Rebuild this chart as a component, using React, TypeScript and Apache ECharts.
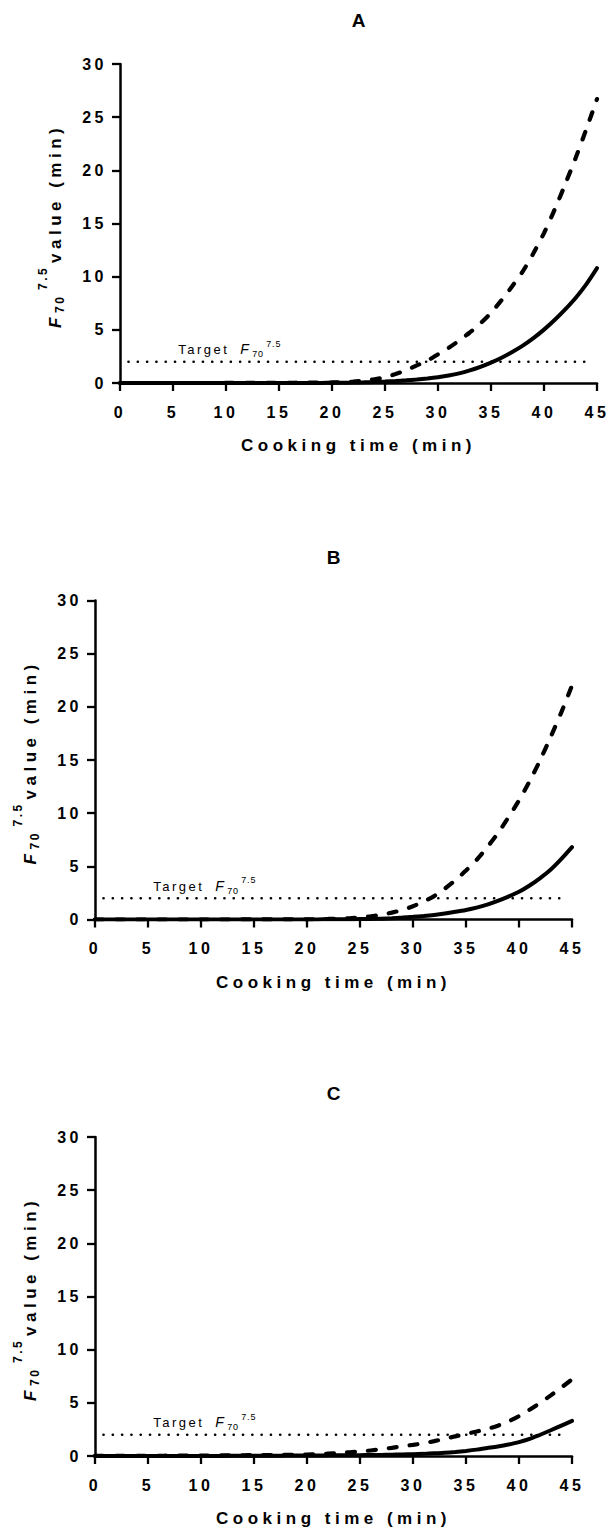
import React, { useEffect, useRef } from "react";
import * as echarts from "echarts";

// ---------- data ----------
const cookingTime = [
  0, 1, 2, 3, 4, 5, 6, 7, 8, 9, 10, 11, 12, 13, 14, 15, 16, 17, 18, 19, 20, 21, 22,
  23, 24, 25, 26, 27, 28, 29, 30, 31, 32, 33, 34, 35, 36, 37, 38, 39, 40, 41, 42, 43,
  44, 45,
];
const panelLabels = ["A", "B", "C"];

const dashedA = [
  0, 0, 0, 0, 0, 0, 0, 0, 0, 0,
  0.01, 0.01, 0.01, 0.01, 0.02, 0.02, 0.02, 0.03, 0.03, 0.04,
  0.05, 0.08, 0.13, 0.22, 0.35, 0.55, 0.85, 1.2, 1.65, 2.1,
  2.7, 3.3, 4.0, 4.75, 5.6, 6.6, 7.8, 9.1, 10.5, 12.2,
  14.1, 16.3, 18.7, 21.2, 23.9, 26.7,
];
const solidA = [
  0, 0, 0, 0, 0, 0, 0, 0, 0, 0,
  0, 0, 0, 0, 0, 0, 0, 0, 0.01, 0.01,
  0.02, 0.03, 0.04, 0.06, 0.09, 0.13, 0.18, 0.25, 0.33, 0.43,
  0.55, 0.7, 0.9, 1.18, 1.52, 1.92, 2.38, 2.92, 3.52, 4.22,
  5.02, 5.92, 6.92, 8.02, 9.3, 10.8,
];
const dashedB = [
  0, 0, 0, 0, 0, 0, 0, 0, 0, 0,
  0, 0, 0, 0, 0.01, 0.01, 0.01, 0.01, 0.02, 0.02,
  0.02, 0.03, 0.05, 0.08, 0.12, 0.2, 0.3, 0.45, 0.65, 0.9,
  1.25, 1.7, 2.2, 2.9, 3.7, 4.6, 5.6, 6.8, 8.1, 9.6,
  11.2, 13.0, 15.0, 17.2, 19.5, 22.0,
];
const solidB = [
  0, 0, 0, 0, 0, 0, 0, 0, 0, 0,
  0, 0, 0, 0, 0, 0, 0, 0, 0, 0,
  0.01, 0.01, 0.02, 0.02, 0.03, 0.04, 0.05, 0.08, 0.12, 0.18,
  0.25, 0.33, 0.43, 0.56, 0.72, 0.9, 1.12, 1.4, 1.75, 2.15,
  2.6, 3.2, 3.9, 4.7, 5.7, 6.8,
];
const dashedC = [
  0.01, 0.01, 0.01, 0.01, 0.02, 0.02, 0.02, 0.03, 0.03, 0.04,
  0.04, 0.05, 0.05, 0.06, 0.07, 0.08, 0.09, 0.1, 0.11, 0.12,
  0.14, 0.17, 0.22, 0.27, 0.35, 0.42, 0.52, 0.63, 0.77, 0.92,
  1.05, 1.2, 1.4, 1.62, 1.85, 2.07, 2.3, 2.55, 2.85, 3.25,
  3.75, 4.35, 5.0, 5.7, 6.45, 7.2,
];
const solidC = [
  0, 0, 0, 0, 0, 0, 0, 0, 0, 0,
  0.01, 0.01, 0.01, 0.02, 0.02, 0.02, 0.03, 0.03, 0.04, 0.04,
  0.05, 0.05, 0.06, 0.07, 0.07, 0.08, 0.09, 0.1, 0.12, 0.14,
  0.17, 0.2, 0.25, 0.3, 0.38, 0.48, 0.6, 0.75, 0.9, 1.08,
  1.3, 1.6, 2.0, 2.42, 2.86, 3.3,
];

const targetValue = 2;
const targetSpan = [0.8, 44.2];
const targetLabelAnchor = [5.5, 2.7];

const xMin = 0;
const xMax = 45;
const xStep = 5;
const yMin = 0;
const yMax = 30;
const yStep = 5;

const xAxisTitle = "Cooking time (min)";
const yAxisTitleRest = "value (min)";
const targetWord = "Target";

// ---------- layout ----------
const FONT = '"Liberation Sans", Arial, Helvetica, sans-serif';
const PLOT_W = 477;
const PLOT_H = 319;
const GRIDS = [
  { left: 120, top: 64 },
  { left: 95, top: 600.5 },
  { left: 95, top: 1137 },
];
const SPACING: Record<number, number> = {
  19: 0,
  17: 4.5,
  16: 3.5,
  13: 2.5,
  12: 2.5,
  14: 0,
  9: 0.8,
};

function applySpacing(root: HTMLElement) {
  root.querySelectorAll("text").forEach((t) => {
    const fs = Math.round(parseFloat(getComputedStyle(t).fontSize));
    const s = SPACING[fs];
    if (s) {
      (t as any).style.letterSpacing = s + "px";
      t.setAttribute("letter-spacing", String(s));
    }
  });
}

function txt(x: number, y: number, text: string, font: string, align = "left") {
  return {
    type: "text",
    x,
    y,
    silent: true,
    style: {
      text,
      font,
      fill: "#000",
      align,
      verticalAlign: "middle",
      textAlign: align,
      textVerticalAlign: "middle",
    },
  };
}

export default function App() {
  const ref = useRef<HTMLDivElement>(null);

  useEffect(() => {
    document.body.style.margin = "0";
    const el = ref.current!;
    const chart = echarts.init(el, null, { renderer: "svg" });
    const spacing = () => applySpacing(el);
    chart.on("finished", spacing);

    const panelData = [
      { dashed: dashedA, solid: solidA },
      { dashed: dashedB, solid: solidB },
      { dashed: dashedC, solid: solidC },
    ];

    const grid = GRIDS.map((g) => ({
      left: g.left,
      top: g.top,
      width: PLOT_W,
      height: PLOT_H,
      containLabel: false,
    }));

    const axisLine = { show: true, onZero: false, lineStyle: { color: "#000", width: 2.5 } };
    const axisTick = { show: true, inside: false, length: 8, lineStyle: { color: "#000", width: 2.3 } };

    const xAxis = GRIDS.map((_, i) => ({
      type: "value",
      gridIndex: i,
      min: xMin,
      max: xMax,
      interval: xStep,
      axisLine,
      axisTick,
      splitLine: { show: false },
      axisLabel: {
        margin: 21,
        color: "#000",
        fontSize: 16,
        fontWeight: "bold",
        fontFamily: FONT,
      },
      name: xAxisTitle,
      nameLocation: "middle",
      nameGap: 54,
      nameTextStyle: { color: "#000", fontSize: 17, fontWeight: "bold", fontFamily: FONT },
    }));

    const yAxis = GRIDS.map((_, i) => ({
      type: "value",
      gridIndex: i,
      min: yMin,
      max: yMax,
      interval: yStep,
      axisLine,
      axisTick,
      splitLine: { show: false },
      axisLabel: {
        margin: 13,
        color: "#000",
        fontSize: 16,
        fontWeight: "bold",
        fontFamily: FONT,
      },
    }));

    const series: any[] = [];
    panelData.forEach((p, i) => {
      series.push({
        type: "line",
        name: "Target",
        xAxisIndex: i,
        yAxisIndex: i,
        data: targetSpan.map((x) => [x, targetValue]),
        showSymbol: false,
        symbol: "none",
        silent: true,
        z: 1,
        lineStyle: { color: "#000", width: 2.6, type: [0.1, 9.2], cap: "round" },
      });
      series.push({
        type: "line",
        name: "Dashed",
        xAxisIndex: i,
        yAxisIndex: i,
        data: cookingTime.map((t, k) => [t, p.dashed[k]]),
        showSymbol: false,
        symbol: "none",
        smooth: 0.3,
        silent: true,
        z: 3,
        lineStyle: { color: "#000", width: 4.2, type: [8, 13], cap: "round" },
      });
      series.push({
        type: "line",
        name: "Solid",
        xAxisIndex: i,
        yAxisIndex: i,
        data: cookingTime.map((t, k) => [t, p.solid[k]]),
        showSymbol: false,
        symbol: "none",
        smooth: 0.3,
        silent: true,
        z: 4,
        lineStyle: { color: "#000", width: 4, type: "solid", cap: "round" },
      });
    });

    chart.setOption({
      animation: false,
      grid,
      xAxis,
      yAxis,
      series,
    });

    const graphic: any[] = [];
    panelLabels.forEach((label, i) => {
      const o = chart.convertToPixel({ gridIndex: i } as any, [xMin, yMin]) as number[];
      const tr = chart.convertToPixel({ gridIndex: i } as any, [xMax, yMax]) as number[];
      const cx = (o[0] + tr[0]) / 2;
      graphic.push(txt(cx, tr[1] - 43.5, label, `bold 19px ${FONT}`, "center"));
      graphic.push({
        type: "group",
        x: o[0] - 59,
        y: tr[1] + 264,
        rotation: Math.PI / 2,
        silent: true,
        children: [
          txt(0, -6, "F", `italic bold 17px ${FONT}`),
          txt(15, -1.2, "70", `bold 12px ${FONT}`),
          txt(38, -18.2, "7.5", `bold 12px ${FONT}`),
          txt(65, -6, yAxisTitleRest, `bold 17px ${FONT}`),
        ],
      });
      const a = chart.convertToPixel({ gridIndex: i } as any, targetLabelAnchor) as number[];
      graphic.push(txt(a[0], a[1] - 4.5, targetWord, `13px ${FONT}`));
      graphic.push(txt(a[0] + 62, a[1] - 4.9, "F", `italic 14px ${FONT}`));
      graphic.push(txt(a[0] + 74, a[1] + 0.2, "70", `9px ${FONT}`));
      graphic.push(txt(a[0] + 88, a[1] - 10.4, "7.5", `9px ${FONT}`));
    });

    chart.setOption({ graphic });

    const raf = requestAnimationFrame(spacing);
    const t1 = setTimeout(spacing, 50);
    const t2 = setTimeout(spacing, 300);

    return () => {
      cancelAnimationFrame(raf);
      clearTimeout(t1);
      clearTimeout(t2);
      chart.dispose();
    };
  }, []);

  return <div ref={ref} style={{ width: 609, height: 1531 }} />;
}
